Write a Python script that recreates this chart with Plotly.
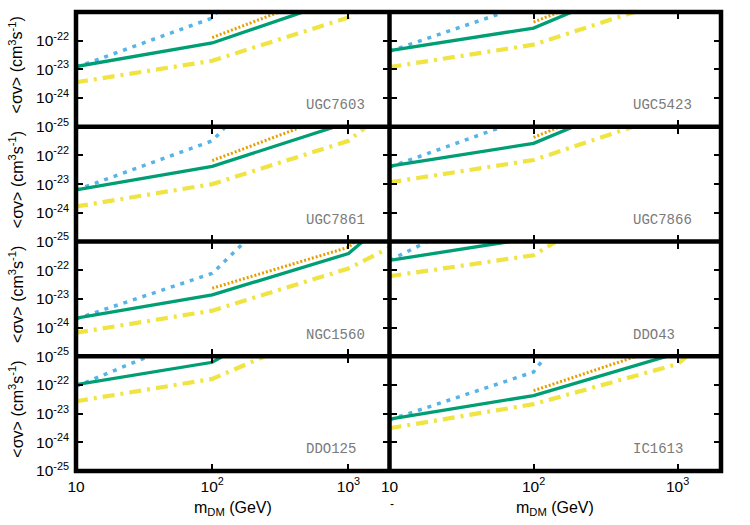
import plotly.graph_objects as go

# ---------------- data (log10 of <sigma v> in cm^3 s^-1) ----------------
galaxies = ["UGC7603", "UGC5423", "UGC7861", "UGC7866",
            "NGC1560", "DDO43", "DDO125", "IC1613"]

mass_blue = [10, 100, 1000]
mass_orange = [100, 1000, 10000]
mass_green = [10, 100, 1000, 10000]
mass_yellow = [10, 100, 1000, 10000]

blue_log = [
    [-22.93, -21.21, -15.0],
    [-22.37, -20.66, -15.0],
    [-23.21, -21.49, -16.5],
    [-22.41, -20.61, -15.0],
    [-23.70, -22.11, -17.5],
    [-21.66, -19.16, -15.0],
    [-22.05, -20.08, -15.0],
    [-23.22, -21.55, -15.0],
]
orange_log = [
    [-21.89, -20.08, -16.0],
    [-21.35, -19.40, -16.0],
    [-22.18, -20.39, -16.0],
    [-21.37, -19.37, -16.0],
    [-22.63, -21.20, -17.2],
    [-20.50, -19.00, -16.0],
    [-20.90, -19.00, -16.0],
    [-22.20, -20.52, -16.0],
]
green_log = [
    [-22.90, -22.08, -20.46, -16.0],
    [-22.35, -21.56, -19.45, -16.0],
    [-23.20, -22.38, -20.85, -17.0],
    [-22.37, -21.58, -19.48, -16.0],
    [-23.67, -22.86, -21.42, -17.4],
    [-21.66, -20.87, -19.00, -16.0],
    [-21.99, -21.21, -18.50, -16.0],
    [-23.19, -22.37, -20.89, -17.0],
]
yellow_log = [
    [-23.45, -22.70, -21.19, -17.5],
    [-22.92, -22.14, -20.51, -17.0],
    [-23.78, -23.00, -21.49, -17.7],
    [-22.94, -22.16, -20.48, -17.0],
    [-24.18, -23.41, -21.94, -19.54],
    [-22.21, -21.48, -18.40, -16.0],
    [-22.57, -21.79, -19.75, -16.0],
    [-23.51, -22.67, -21.27, -17.0],
]

x_tickvals = [10, 100, 1000]
x_ticktext = ["10", "10<sup>2</sup>", "10<sup>3</sup>"]
y_tickvals = [1e-25, 1e-24, 1e-23, 1e-22]
y_ticktext = ["10<sup>-25</sup>", "10<sup>-24</sup>", "10<sup>-23</sup>", "10<sup>-22</sup>"]

# ---------------- layout geometry ----------------
W, H = 750, 525
col_px = [(76, 389.5), (389.5, 721)]
row_px = [(12, 126.75), (126.75, 241.5), (241.5, 356.25), (356.25, 471)]

FONT = "Liberation Sans, Arial, sans-serif"
MONO = "Liberation Mono, Courier New, monospace"
TICK_SIZE = 15.5

styles = [
    dict(color="#56B4E9", width=3.5, dash="4px,6px"),
    dict(color="#E69F00", width=3, dash="2px,2px"),
    dict(color="#009E73", width=3.3, dash="solid"),
    dict(color="#F0E442", width=4.2, dash="12px,6px,3px,6px"),
]

fig = go.Figure()
layout = dict(
    width=W, height=H, template="none",
    margin=dict(l=0, r=0, t=0, b=0),
    paper_bgcolor="white", plot_bgcolor="white",
    showlegend=False,
    font=dict(family=FONT, size=14, color="black"),
)
annotations = []
shapes = []

def px2x(px):
    return px / W

def px2y(py):
    return 1 - py / H

for i, name in enumerate(galaxies):
    r, c = divmod(i, 2)
    n = "" if i == 0 else str(i + 1)
    xa, ya = "x" + n, "y" + n
    series = [
        (mass_blue, blue_log[i]),
        (mass_orange, orange_log[i]),
        (mass_green, green_log[i]),
        (mass_yellow, yellow_log[i]),
    ]
    for (mx, ly), st in zip(series, styles):
        fig.add_trace(go.Scatter(
            x=mx, y=[10 ** v for v in ly], mode="lines",
            line=dict(color=st["color"], width=st["width"], dash=st["dash"]),
            xaxis=xa, yaxis=ya, hoverinfo="skip",
        ))
    x0, x1 = col_px[c]
    y0, y1 = row_px[r]
    layout["xaxis" + n] = dict(
        type="log", range=[1, 3.301],
        domain=[px2x(x0), px2x(x1)], anchor=ya,
        showgrid=False, zeroline=False,
        showline=False, mirror="allticks",
        ticks="inside", ticklen=7, tickwidth=1.5, tickcolor="black",
        tickvals=x_tickvals, ticktext=x_ticktext,
        showticklabels=(r == 3), automargin=False, ticklabelstandoff=4,
        tickfont=dict(family=FONT, size=TICK_SIZE, color="black"),
    )
    layout["yaxis" + n] = dict(
        type="log", range=[-25, -21],
        domain=[px2y(y1), px2y(y0)], anchor=xa,
        showgrid=False, zeroline=False,
        showline=False, mirror="allticks",
        ticks="inside", ticklen=7, tickwidth=1.5, tickcolor="black",
        tickvals=y_tickvals, ticktext=y_ticktext,
        showticklabels=(c == 0), automargin=False, ticklabelstandoff=6,
        tickfont=dict(family=FONT, size=TICK_SIZE, color="black"),
    )
    annotations.append(dict(
        xref=xa, yref=ya, x=2.675, y=-24.25, text=name,
        showarrow=False, xanchor="left", yanchor="middle",
        font=dict(family=MONO, size=14, color="#7a7a7a"),
    ))

# panel borders
BW = 4.5
shapes.append(dict(type="rect", xref="paper", yref="paper",
                   x0=px2x(col_px[0][0]), x1=px2x(col_px[1][1]),
                   y0=px2y(row_px[3][1]), y1=px2y(row_px[0][0]),
                   line=dict(color="black", width=BW), layer="above"))
shapes.append(dict(type="line", xref="paper", yref="paper",
                   x0=px2x(col_px[0][1]), x1=px2x(col_px[0][1]),
                   y0=px2y(row_px[3][1]), y1=px2y(row_px[0][0]),
                   line=dict(color="black", width=BW), layer="above"))
for r in range(1, 4):
    shapes.append(dict(type="line", xref="paper", yref="paper",
                       x0=px2x(col_px[0][0]), x1=px2x(col_px[1][1]),
                       y0=px2y(row_px[r][0]), y1=px2y(row_px[r][0]),
                       line=dict(color="black", width=BW), layer="above"))

for r in range(4):
    yc = (row_px[r][0] + row_px[r][1]) / 2
    annotations.append(dict(
        xref="paper", yref="paper", x=px2x(16), y=px2y(yc - 4),
        text="<σv> (cm<sup>3</sup>s<sup>-1</sup>)", textangle=-90,
        showarrow=False, xanchor="center", yanchor="middle",
        font=dict(family=FONT, size=16, color="black"),
    ))
for c in range(2):
    xc = (col_px[c][0] + col_px[c][1]) / 2
    annotations.append(dict(
        xref="paper", yref="paper", x=px2x(xc), y=px2y(508),
        text="m<sub>DM</sub> (GeV)", showarrow=False,
        xanchor="center", yanchor="middle",
        font=dict(family=FONT, size=16, color="black"),
    ))
annotations.append(dict(
    xref="paper", yref="paper", x=px2x(392), y=px2y(504), text="-",
    showarrow=False, xanchor="center", yanchor="middle",
    font=dict(family=FONT, size=12, color="black"),
))

layout["annotations"] = annotations
layout["shapes"] = shapes
fig.update_layout(**layout)
fig.write_html("out.html")
